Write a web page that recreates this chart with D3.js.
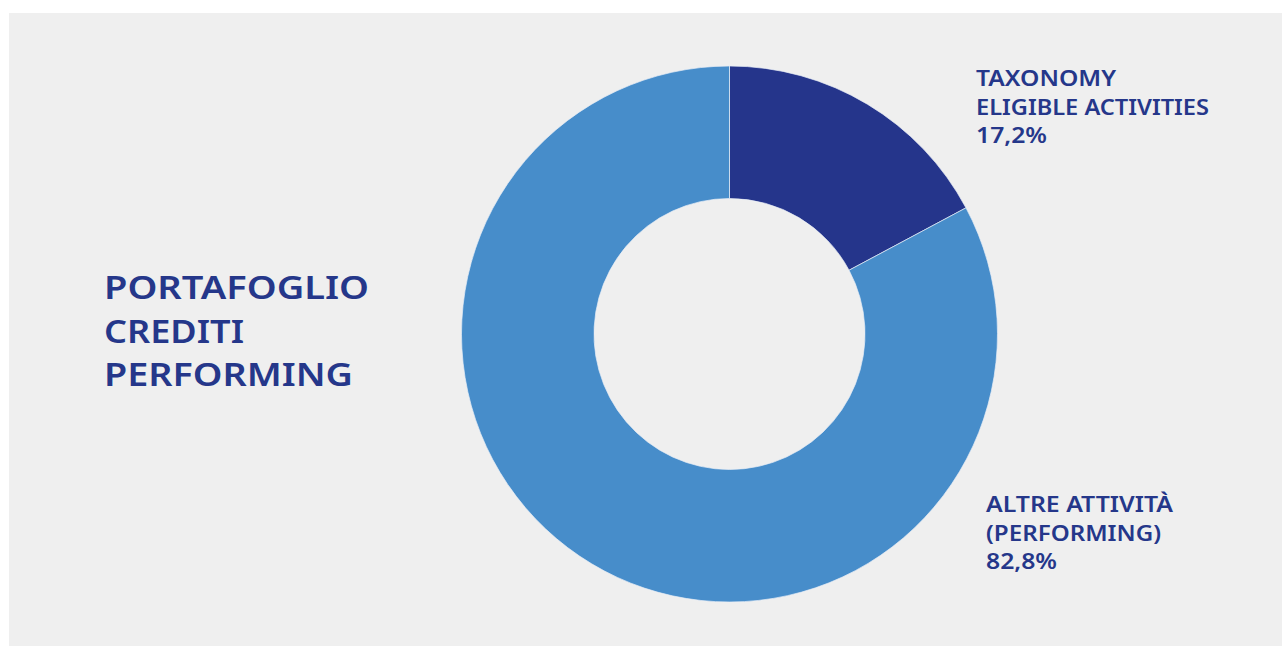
<!DOCTYPE html>
<html>
<head>
<meta charset="utf-8">
<script src="https://cdn.jsdelivr.net/npm/d3@7"></script>
<style>
  html, body { margin: 0; padding: 0; background: #ffffff; }
  svg { display: block; }
  text { font-family: "Noto Sans", "Lato", sans-serif; fill: #25378a; }
</style>
</head>
<body>
<svg id="chart" width="1282" height="646"></svg>
<script>
// ---------- Data ----------
const categories = ["TAXONOMY ELIGIBLE ACTIVITIES", "ALTRE ATTIVITÀ (PERFORMING)"];
const values = [17.2, 82.8];
const colors = ["#25358b", "#478dca"];
const labelLines = [
  ["TAXONOMY", "ELIGIBLE ACTIVITIES", "17,2%"],
  ["ALTRE ATTIVITÀ", "(PERFORMING)", "82,8%"]
];
const titleLines = ["PORTAFOGLIO", "CREDITI", "PERFORMING"];

// ---------- Setup ----------
const svg = d3.select("#chart");

// grey panel
svg.append("rect")
  .attr("x", 9).attr("y", 13)
  .attr("width", 1273).attr("height", 633)
  .attr("fill", "#efefef");

const cx = 729.5, cy = 334;
const outerR = 268, innerR = 135.5;

const pie = d3.pie().sort(null).value((d) => d.value);
const arc = d3.arc().innerRadius(innerR).outerRadius(outerR);

const slices = pie(categories.map((c, i) => ({ name: c, value: values[i], color: colors[i] })));

const g = svg.append("g").attr("transform", `translate(${cx},${cy})`);
g.selectAll("path")
  .data(slices)
  .join("path")
  .attr("d", arc)
  .attr("fill", (d) => d.data.color)
  .attr("stroke", "#e8eef6")
  .attr("stroke-width", 0.7);

// ---------- Title ----------
const titleWidths = [265, 140, 249];
svg.append("g")
  .selectAll("text")
  .data(titleLines)
  .join("text")
  .attr("x", 104)
  .attr("y", (d, i) => 299 + i * 43.5)
  .attr("font-size", 32)
  .attr("font-weight", 600)
  .attr("textLength", (d, i) => titleWidths[i])
  .attr("lengthAdjust", "spacingAndGlyphs")
  .text((d) => d);

// ---------- Slice labels ----------
const labelPos = [
  { x: 976, y: 86, widths: [140, 233, 71] },
  { x: 986, y: 512, widths: [187, 175, 71] }
];

labelLines.forEach((lines, k) => {
  svg.append("g")
    .selectAll("text")
    .data(lines)
    .join("text")
    .attr("x", labelPos[k].x)
    .attr("y", (d, i) => labelPos[k].y + i * 28.6)
    .attr("font-size", 21)
    .attr("font-weight", 600)
    .attr("textLength", (d, i) => labelPos[k].widths[i])
    .attr("lengthAdjust", "spacingAndGlyphs")
    .text((d) => d);
});
</script>
</body>
</html>
